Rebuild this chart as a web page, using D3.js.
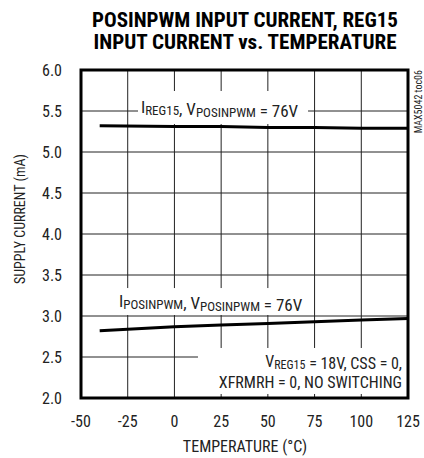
<!DOCTYPE html>
<html>
<head>
<meta charset="utf-8">
<script src="https://cdn.jsdelivr.net/npm/d3@7"></script>
<style>
  body { margin: 0; background: #fff; }
  svg text { font-family: "Liberation Sans Narrow", "Arial Narrow", "Roboto Condensed", "DejaVu Sans Condensed", sans-serif; fill: #222; }
</style>
</head>
<body>
<div id="chart"></div>
<script>
// temperature (°C) vs supply current (mA)
const temps = [-40, 0, 25, 50, 75, 100, 125];
const iReg15 = [5.32, 5.31, 5.31, 5.30, 5.30, 5.29, 5.29];
const iPosinpwm = [2.82, 2.87, 2.89, 2.91, 2.93, 2.95, 2.97];

const xTicks = [-50, -25, 0, 25, 50, 75, 100, 125];
const yTicks = [2.0, 2.5, 3.0, 3.5, 4.0, 4.5, 5.0, 5.5, 6.0];

const width = 424;
const height = 458;
const margin = { top: 70, right: 16, bottom: 60, left: 81 };

const svg = d3.select("#chart")
    .append("svg")
    .attr("width", width)
    .attr("height", height);

const x = d3.scaleLinear().domain([-50, 125]).range([margin.left, width - margin.right]);
const y = d3.scaleLinear().domain([2, 6]).range([height - margin.bottom, margin.top]);

// title
const title = svg.append("g").attr("font-weight", "bold");
title.append("text")
    .attr("x", 245).attr("y", 27)
    .attr("text-anchor", "middle")
    .attr("font-size", 20)
    .attr("textLength", 306).attr("lengthAdjust", "spacingAndGlyphs")
    .style("fill", "#000")
    .text("POSINPWM INPUT CURRENT, REG15");
title.append("text")
    .attr("x", 245).attr("y", 49)
    .attr("text-anchor", "middle")
    .attr("font-size", 20)
    .attr("textLength", 303).attr("lengthAdjust", "spacingAndGlyphs")
    .style("fill", "#000")
    .text("INPUT CURRENT vs. TEMPERATURE");

// grid
const grid = svg.append("g").attr("stroke", "#222").attr("stroke-width", 1);
grid.selectAll("line.v")
    .data(xTicks.slice(1, -1))
    .enter().append("line")
    .attr("class", "v")
    .attr("x1", d => x(d)).attr("x2", d => x(d))
    .attr("y1", y(6)).attr("y2", y(2));
grid.selectAll("line.h")
    .data(yTicks.slice(1, -1))
    .enter().append("line")
    .attr("class", "h")
    .attr("x1", x(-50)).attr("x2", x(125))
    .attr("y1", d => y(d)).attr("y2", d => y(d));

// white boxes behind labels (in data units)
const boxes = [
    { x0: -19.5, x1: 71.5, y0: 5.744, y1: 5.341 },
    { x0: -30.2, x1: 74.2, y0: 3.341, y1: 3.012 },
    { x0: 12.6, x1: 125, y0: 2.61, y1: 2.049 }
];
svg.append("g").selectAll("rect")
    .data(boxes)
    .enter().append("rect")
    .attr("x", d => x(d.x0))
    .attr("y", d => y(d.y0))
    .attr("width", d => x(d.x1) - x(d.x0))
    .attr("height", d => y(d.y1) - y(d.y0))
    .attr("fill", "#fff");

// data lines
const line = d3.line().x(d => x(d[0])).y(d => y(d[1]));
svg.append("path")
    .datum(d3.zip(temps, iReg15))
    .attr("d", line)
    .attr("fill", "none").attr("stroke", "#000").attr("stroke-width", 3);
svg.append("path")
    .datum(d3.zip(temps, iPosinpwm))
    .attr("d", line)
    .attr("fill", "none").attr("stroke", "#000").attr("stroke-width", 3);

// frame
svg.append("rect")
    .attr("x", x(-50)).attr("y", y(6))
    .attr("width", x(125) - x(-50)).attr("height", y(2) - y(6))
    .attr("fill", "none").attr("stroke", "#000").attr("stroke-width", 3);

// tick labels
svg.append("g").selectAll("text")
    .data(yTicks)
    .enter().append("text")
    .attr("x", 62).attr("y", d => y(d) + 6)
    .attr("text-anchor", "end")
    .attr("font-size", 16)
    .text(d => d.toFixed(1));
svg.append("g").selectAll("text")
    .data(xTicks)
    .enter().append("text")
    .attr("x", d => x(d)).attr("y", 427)
    .attr("text-anchor", "middle")
    .attr("font-size", 16)
    .text(d => d);

// axis titles
svg.append("text")
    .attr("x", 245).attr("y", 452)
    .attr("text-anchor", "middle")
    .attr("font-size", 16)
    .text("TEMPERATURE (°C)");
svg.append("text")
    .attr("transform", "translate(25,219) rotate(-90)")
    .attr("text-anchor", "middle")
    .attr("font-size", 14)
    .text("SUPPLY CURRENT (mA)");
svg.append("text")
    .attr("transform", "translate(422,70) rotate(-90)")
    .attr("text-anchor", "end")
    .attr("font-size", 10)
    .text("MAX5042 toc06");

// series labels with subscripts
function label(xv, yv, parts, anchor, size) {
    const fs = size || 17;
    const t = svg.append("text")
        .attr("x", x(xv)).attr("y", y(yv))
        .attr("text-anchor", anchor || "start")
        .attr("font-size", fs);
    parts.forEach(p => {
        if (p.sub) {
            t.append("tspan").attr("font-size", fs - 4).attr("dy", 2).text(p.sub);
            t.append("tspan").attr("dy", -2).text("");
        } else {
            t.append("tspan").text(p.t);
        }
    });
    return t;
}
label(-17.9, 5.476, [{ t: "I" }, { sub: "REG15" }, { t: ", V" }, { sub: "POSINPWM" }, { t: " = 76V" }]);
label(-29.7, 3.11, [{ t: "I" }, { sub: "POSINPWM" }, { t: ", V" }, { sub: "POSINPWM" }, { t: " = 76V" }]);
label(121.8, 2.375, [{ t: "V" }, { sub: "REG15" }, { t: " = 18V, CSS = 0," }], "end", 16);
label(121.8, 2.125, [{ t: "XFRMRH = 0, NO SWITCHING" }], "end", 16);
</script>
</body>
</html>
